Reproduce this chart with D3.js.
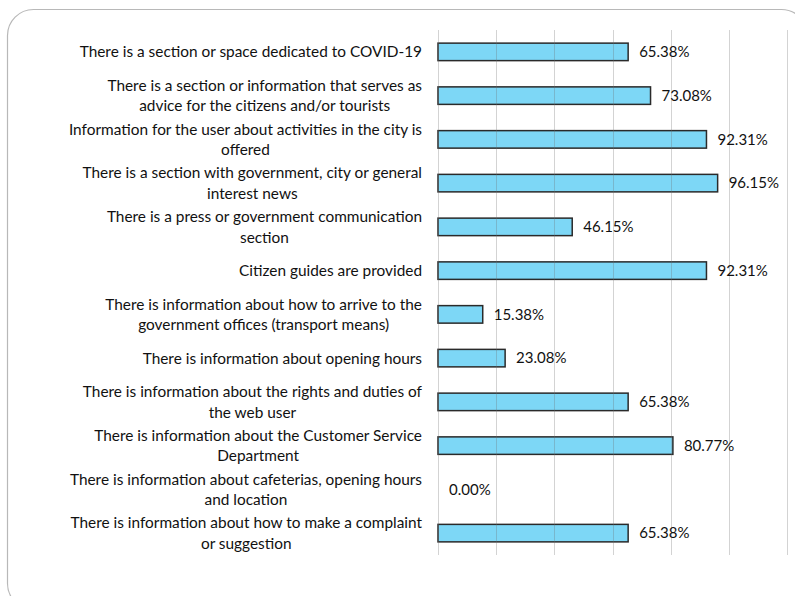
<!DOCTYPE html>
<meta charset="utf-8">
<html>
  <head>
    <script src="https://d3js.org/d3.v7.min.js"></script>
    <style>
      body { margin: 0; background: #fff; }
      text { font-family: Lato, "Open Sans", sans-serif; fill: #111; }
    </style>
  </head>
  <body>
  <script>

// categories, top to bottom, already wrapped as in the original
const categories = [
  ["There is a section or space dedicated to COVID-19"],
  ["There is a section or information that serves as", "advice for the citizens and/or tourists"],
  ["Information for the user about activities in the city is", "offered"],
  ["There is a section with government, city or general", "interest news"],
  ["There is a press or government communication", "section"],
  ["Citizen guides are provided"],
  ["There is information about how to arrive to the", "government offices (transport means)"],
  ["There is information about opening hours"],
  ["There is information about the rights and duties of", "the web user"],
  ["There is information about the Customer Service", "Department"],
  ["There is information about cafeterias, opening hours", "and location"],
  ["There is information about how to make a complaint", "or suggestion"]
];
const values = [65.38, 73.08, 92.31, 96.15, 46.15, 92.31, 15.38, 23.08, 65.38, 80.77, 0.00, 65.38];
const ticks = [0, 20, 40, 60, 80, 100, 120];

const width = 795, height = 596;
const margin = {left: 438, right: 8, top: 30, bottom: 41};

const svg = d3.select('body').append('svg')
  .attr('width', width)
  .attr('height', height);

// rounded frame round the whole chart
svg.append('rect')
  .attr('x', 7.5).attr('y', 9.5)
  .attr('width', 800).attr('height', 600)
  .attr('rx', 26)
  .style('fill', 'none')
  .style('stroke', '#b8b8b8')
  .style('stroke-width', 1.2);

const x = d3.scaleLinear().domain([0, 120]).range([margin.left, width - margin.right]);
const y = d3.scaleBand()
  .domain(d3.range(values.length))
  .range([margin.top, height - margin.bottom])
  .paddingInner(0.6).paddingOuter(0.3);

const data = values.map((v, i) => ({ i, v, label: categories[i] }));

svg.append('g')
  .selectAll('rect')
  .data(data)
  .join('rect')
    .attr('x', x(0))
    .attr('y', d => y(d.i))
    .attr('width', d => x(d.v) - x(0))
    .attr('height', y.bandwidth())
    .style('fill', d => d.v > 0 ? '#7dd7f6' : 'none')
    .style('stroke', d => d.v > 0 ? '#2a2a2a' : 'none')
    .style('stroke-width', 1.5);

// gridlines sit on top of the bars, faint
svg.append('g')
  .selectAll('line')
  .data(ticks)
  .join('line')
    .attr('x1', d => Math.round(x(d)) + 0.5)
    .attr('x2', d => Math.round(x(d)) + 0.5)
    .attr('y1', margin.top)
    .attr('y2', height - margin.bottom)
    .style('stroke', 'rgba(110,110,110,0.3)')
    .style('stroke-width', 1);

const lineH = 20.5;
const labels = svg.append('g')
  .selectAll('text')
  .data(data)
  .join('text')
    .attr('text-anchor', 'middle')
    .style('font-size', '15.4px');

labels.each(function(d) {
  const t = d3.select(this);
  const cy = y(d.i) + y.bandwidth() / 2;
  const n = d.label.length;
  d.label.forEach((line, k) => {
    t.append('tspan')
      .attr('y', cy + (k - (n - 1) / 2) * lineH)
      .attr('dy', '0.35em')
      .text(line);
  });
  // right edge of the widest line at 422, others centred on it
  const w = d3.max(t.selectAll('tspan').nodes(), n => n.getComputedTextLength());
  t.selectAll('tspan').attr('x', 422 - w / 2);
});

svg.append('g')
  .selectAll('text')
  .data(data)
  .join('text')
    .attr('x', d => x(d.v) + 11)
    .attr('y', d => y(d.i) + y.bandwidth() / 2)
    .attr('dy', '0.35em')
    .style('font-size', '15px')
    .text(d => d.v.toFixed(2) + '%');

  </script>
  </body>
</html>
